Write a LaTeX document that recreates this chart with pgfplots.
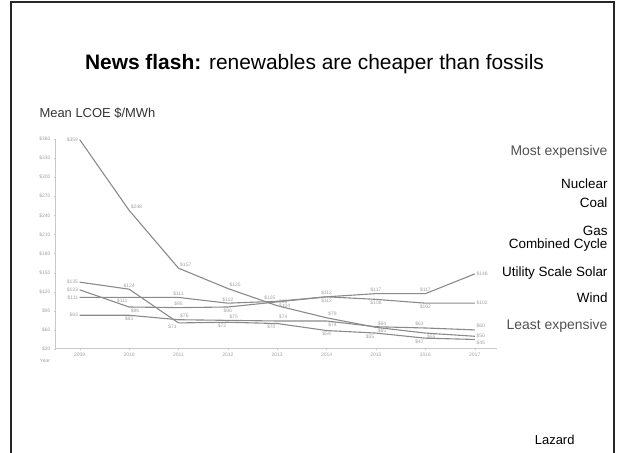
\documentclass[border=0pt]{standalone}
\usepackage{fontspec}
\setmainfont{Liberation Sans}
\usepackage{pgfplots}
\usepackage{pgfplotstable}
\pgfplotsset{compat=1.18}

\definecolor{lcoeline}{RGB}{138,138,138}
\definecolor{lcoetext}{RGB}{160,160,160}
\definecolor{axisgray}{RGB}{200,200,200}
\definecolor{notegray}{RGB}{80,80,80}

% Mean levelized cost of energy, $/MWh (Lazard), with the side of each value label
\pgfplotstableread[col sep=comma]{
year,solar,wind,nuclear,coal,gas,sA,wA,nA,cA,gA
2009,359,135,123,111,83,east,east,east,east,east
2010,248,124,96,111,83,south west,south,north west,north east,north
2011,157,71,95,111,76,south west,north east,south,south,south west
2012,125,72,96,102,75,south west,north east,north,south,south west
2013,98,70,104,105,74,south west,north east,north west,south east,south west
2014,79,59,112,112,74,south west,north,south,north,north west
2015,64,55,117,108,65,south west,north east,south,north,north west
2016,55,47,117,102,63,north west,north east,south,north,south east
2017,50,45,148,102,60,west,north west,west,west,south west
}\lcoe

\pgfplotsset{lcoe/.style={lcoeline, line width=1.1bp, mark=none}}

\begin{document}
\begin{tikzpicture}[x=1bp,y=1bp]
\useasboundingbox (0,0) rectangle (618,453);
% slide frame
\begin{scope}
  \clip (0,0) rectangle (618,453);
  \draw[line width=1.8bp, black!85] (11,-5) -- (11,451) -- (614,451) -- (614,-5);
\end{scope}

\node[anchor=base, font=\fontsize{21}{25}\selectfont] at (314.5,383)
  {\textbf{News flash:} renewables are cheaper than fossils};
\node[anchor=west, font=\fontsize{13}{15}\selectfont, text=black!80] at (36,340)
  {Mean LCOE \$/MWh};

\begin{axis}[
  at={(55bp,104bp)}, anchor=south west,
  scale only axis, width=442bp, height=210bp,
  xmin=2008.5, xmax=2017.45, ymin=30, ymax=360,
  axis x line=bottom, axis y line=left,
  axis line style={axisgray, line width=1bp, -},
  xtick={2009,...,2017}, ytick={30,60,...,360},
  /pgf/number format/assume math mode=true,
  xticklabel style={/pgf/number format/1000 sep={}},
  yticklabel={\$\pgfmathprintnumber{\tick}},
  tick label style={font=\fontsize{5}{6}\selectfont, text=lcoetext},
  major tick length=2bp, tick style={axisgray},
  point meta=explicit symbolic,
  visualization depends on={rawy \as \yval},
  nodes near coords={\$\pgfmathprintnumber{\yval}},
  nodes near coords style={font=\fontsize{5}{6}\selectfont, text=lcoetext,
                           inner sep=1.2bp, anchor=\pgfplotspointmeta},
  clip=false,
]
% utility scale solar
\addplot[lcoe] table[x=year, y=solar, meta=sA] {\lcoe};
% wind
\addplot[lcoe] table[x=year, y=wind, meta=wA] {\lcoe};
% nuclear
\addplot[lcoe] table[x=year, y=nuclear, meta=nA] {\lcoe};
% coal
\addplot[lcoe] table[x=year, y=coal, meta=cA] {\lcoe};
% gas combined cycle
\addplot[lcoe] table[x=year, y=gas, meta=gA] {\lcoe};
\end{axis}

\node[font=\fontsize{5}{6}\selectfont, text=lcoetext] at (45,92) {Year};

% technologies, ordered by cost
\begin{scope}[every node/.style={anchor=east, font=\fontsize{13.5}{16}\selectfont}]
  \node[text=notegray, font=\fontsize{14}{16}\selectfont] at (611,301) {Most expensive};
  \node at (611,269) {Nuclear};
  \node at (611,250) {Coal};
  \node at (611,222.5) {Gas};
  \node at (611,207.5) {Combined Cycle};
  \node at (611,180) {Utility Scale Solar};
  \node at (611,155) {Wind};
  \node[text=notegray, font=\fontsize{14}{16}\selectfont] at (611,127) {Least expensive};
\end{scope}
\node[anchor=east, font=\fontsize{13}{15}\selectfont] at (578,13) {Lazard};
\end{tikzpicture}
\end{document}
